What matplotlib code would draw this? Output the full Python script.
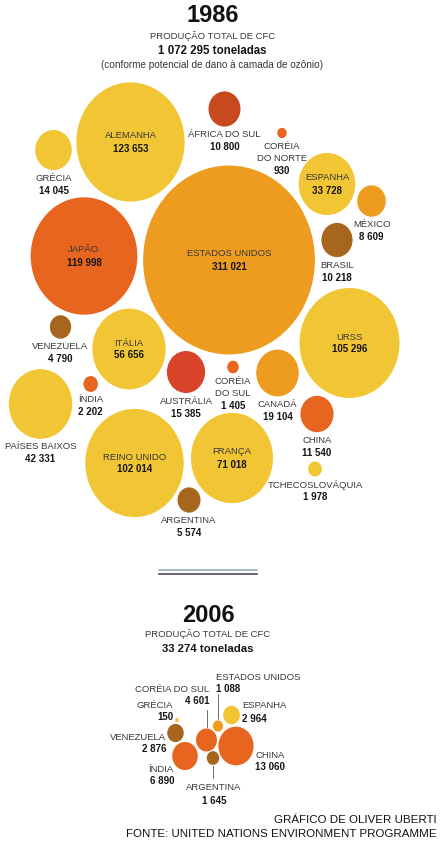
import numpy as np
import matplotlib.pyplot as plt
from matplotlib.patches import Ellipse

plt.rcParams["font.family"] = ["Liberation Sans", "DejaVu Sans"]

# ── 1. Data ─────────────────────────────────────────────────────────────────
countries_1986 = ["ALEMANHA", "GRÉCIA", "ÁFRICA DO SUL", "CORÉIA\nDO NORTE",
                  "ESPANHA", "MÉXICO", "BRASIL", "JAPÃO", "ESTADOS UNIDOS",
                  "VENEZUELA", "ITÁLIA", "URSS", "CORÉIA\nDO SUL", "AUSTRÁLIA",
                  "ÍNDIA", "CANADÁ", "CHINA", "PAÍSES BAIXOS", "REINO UNIDO",
                  "FRANÇA", "TCHECOSLOVÁQUIA", "ARGENTINA"]
values_1986 = [123653, 14045, 10800, 930, 33728, 8609, 10218, 119998, 311021,
               4790, 56656, 105296, 1405, 15385, 2202, 19104, 11540, 42331,
               102014, 71018, 1978, 5574]
total_1986 = 1072295

countries_2006 = ["ESTADOS UNIDOS", "CORÉIA DO SUL", "GRÉCIA", "ESPANHA",
                  "VENEZUELA", "CHINA", "ÍNDIA", "ARGENTINA"]
values_2006 = [1088, 4601, 150, 2964, 2876, 13060, 6890, 1645]
total_2006 = 33274

# ── 2. Styles / layout ──────────────────────────────────────────────────────
YELLOW = "#f2c534"
ORANGE = "#ee9c20"
REDOR = "#e8651f"
DARKRED = "#c9491f"
RED = "#d8432a"
BROWN = "#a6661d"

colors_1986 = [YELLOW, YELLOW, DARKRED, REDOR, YELLOW, ORANGE, BROWN, REDOR,
               ORANGE, BROWN, YELLOW, YELLOW, REDOR, RED, REDOR, ORANGE, REDOR,
               YELLOW, YELLOW, YELLOW, YELLOW, BROWN]
colors_2006 = [ORANGE, REDOR, YELLOW, YELLOW, BROWN, REDOR, REDOR, BROWN]

# bubble centres in pixel space (figure is 444 x 842 px)
centres_1986 = [(130.5, 142), (53.5, 150), (224.5, 109), (282, 133),
                (327, 184), (371.5, 201), (337, 240), (84, 256), (229, 260),
                (60.5, 327), (129, 349), (349.5, 343), (233, 367), (186, 372),
                (90.7, 384), (277.5, 373), (317, 414), (40.5, 404),
                (134.5, 463), (232, 458), (315, 469), (189, 500)]
inside_1986 = {"ALEMANHA", "ESPANHA", "JAPÃO", "ESTADOS UNIDOS", "ITÁLIA",
               "URSS", "REINO UNIDO", "FRANÇA"}

centres_2006 = [(218, 726), (206.5, 740), (177, 720), (231.5, 715),
                (175.5, 733), (236, 746), (185, 756), (213, 758)]
# label anchor (x, y of first line, alignment)
labels_2006 = [(216, 677, "left"), (209, 689, "right"), (173, 705, "right"),
               (242, 706, "left"), (166, 737, "right"), (255, 755, "left"),
               (174, 769, "right"), (214, 788, "center")]
leaders_2006 = [(218, 694, 719), (206.5, 710, 727), (213, 766, 778)]

SCALE = 0.154      # px of radius per sqrt(tonne)
STRETCH = 1.10     # the scan is stretched vertically
LINE = 12.5
NAME_C = "#383838"
VAL_C = "#151515"
FS = 6.8


def fmt(v):
    return f"{v:,}".replace(",", " ")


def bubble(ax, xy, value, color):
    r = SCALE * np.sqrt(value)
    ax.add_patch(Ellipse(xy, 2 * r, 2 * r * STRETCH, facecolor=color,
                         edgecolor="none", zorder=1))
    return r * STRETCH


fig = plt.figure(figsize=(4.44, 8.42), dpi=100, facecolor="white")
ax = fig.add_axes([0, 0, 1, 1])
ax.set_xlim(0, 444)
ax.set_ylim(842, 0)
ax.axis("off")

# ── 3. 1986 ─────────────────────────────────────────────────────────────────
ax.text(213, 16, "1986", ha="center", va="center", fontsize=17,
        fontweight="bold", color="#111111")
ax.text(213, 36, "PRODUÇÃO TOTAL DE CFC", ha="center", va="center",
        fontsize=6.8, color=NAME_C)
ax.text(212, 51, f"{fmt(total_1986)} toneladas", ha="center", va="center",
        fontsize=8.3, fontweight="bold", color=VAL_C)
ax.text(212, 65, "(conforme potencial de dano à camada de ozônio)",
        ha="center", va="center", fontsize=7.2, color=NAME_C)

for name, val, col, (cx, cy) in zip(countries_1986, values_1986,
                                     colors_1986, centres_1986):
    ry = bubble(ax, (cx, cy), val, col)
    lines = name.split("\n")
    if name in inside_1986:
        y0 = cy - 6
    else:
        y0 = cy + ry + 8
    for i, ln in enumerate(lines):
        ax.text(cx, y0 + i * LINE, ln, ha="center", va="center",
                fontsize=FS, color=NAME_C, zorder=3)
    ax.text(cx, y0 + len(lines) * LINE, fmt(val), ha="center", va="center",
            fontsize=FS + 0.2, fontweight="bold", color=VAL_C, zorder=3)

# separator
ax.plot([159, 257], [570.3, 570.3], color="#8fa8a8", lw=1.1)
ax.plot([159, 257], [573.7, 573.7], color="#3a3f44", lw=1.1)

# ── 4. 2006 ─────────────────────────────────────────────────────────────────
ax.text(208.5, 615, "2006", ha="center", va="center", fontsize=17,
        fontweight="bold", color="#111111")
ax.text(208, 634, "PRODUÇÃO TOTAL DE CFC", ha="center", va="center",
        fontsize=6.8, color=NAME_C)
ax.text(208, 649, f"{fmt(total_2006)} toneladas", ha="center", va="center",
        fontsize=8.2, fontweight="bold", color=VAL_C)

for name, val, col, (cx, cy), (lx, ly, ha) in zip(
        countries_2006, values_2006, colors_2006, centres_2006, labels_2006):
    bubble(ax, (cx, cy), val, col)
    ax.text(lx, ly, name, ha=ha, va="center", fontsize=FS, color=NAME_C)
    ax.text(lx, ly + LINE, fmt(val), ha=ha, va="center", fontsize=FS + 0.2,
            fontweight="bold", color=VAL_C)

for x, y0, y1 in leaders_2006:
    ax.plot([x, x], [y0, y1], color="#555555", lw=0.6, zorder=2)

# ── 5. Credits ──────────────────────────────────────────────────────────────
ax.text(437, 820, "GRÁFICO DE OLIVER UBERTI", ha="right", va="center",
        fontsize=8.25, color="#111111")
ax.text(437, 834, "FONTE: UNITED NATIONS ENVIRONMENT PROGRAMME", ha="right",
        va="center", fontsize=8.25, color="#111111")

fig.savefig("out.png", dpi=100, facecolor="white")
